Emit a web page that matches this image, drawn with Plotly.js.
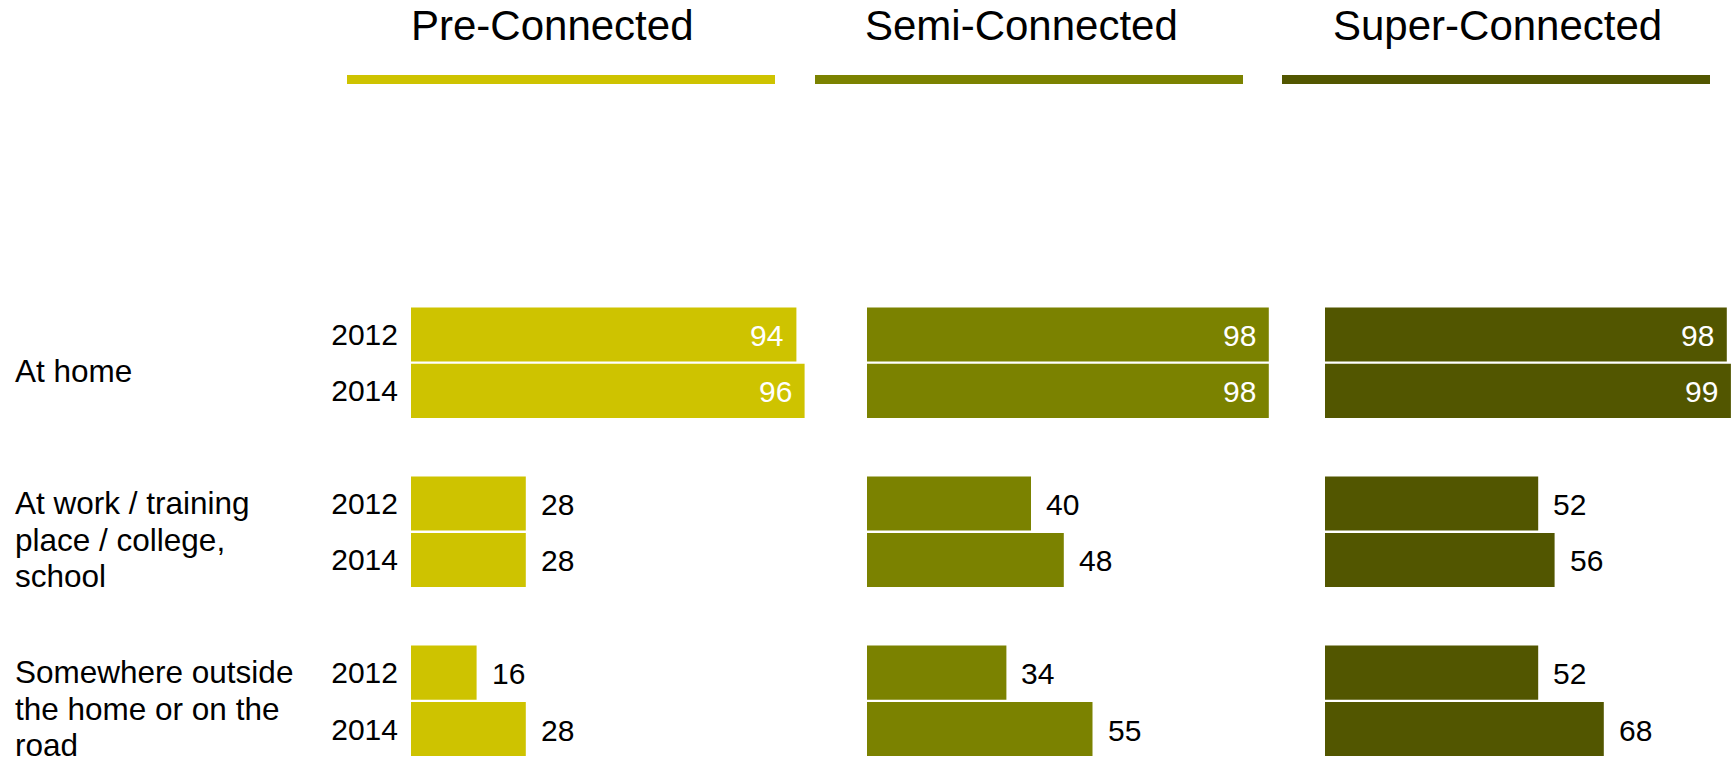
<!DOCTYPE html>
<html>
<head>
<meta charset="utf-8">
<script src="https://cdn.plot.ly/plotly-3.0.1.min.js"></script>
<style>
html,body{margin:0;padding:0;background:#fff;}
#chart{width:1736px;height:759px;}
</style>
</head>
<body>
<div id="chart"></div>
<script>
// ---- data ----
const segments = ["Pre-Connected", "Semi-Connected", "Super-Connected"];
const groups = ["At home", "At work / training<br>place / college,<br>school", "Somewhere outside<br>the home or on the<br>road"];
const years = ["2012", "2014"];
const pre2012 = [94, 28, 16];
const pre2014 = [96, 28, 28];
const semi2012 = [98, 40, 34];
const semi2014 = [98, 48, 55];
const super2012 = [98, 52, 52];
const super2014 = [99, 56, 68];

// ---- styling ----
const colors = ["#CEC300", "#7B8200", "#525600"];
const font = "Liberation Sans, Arial, sans-serif";
const W = 1736, H = 759;
const xDomains = [[411 / W, 821 / W], [867 / W, 1277 / W], [1325 / W, 1735 / W]];
const underlinePx = [[347, 775], [815, 1243], [1282, 1710]];
const titleCenters = [552, 1021, 1497.5];
const lineStep = 36.5;

const seriesBySegment = [[pre2012, pre2014], [semi2012, semi2014], [super2012, super2014]];

// position of each bar on the numeric category axis: group*3 + yearIndex
function pos(g, j) { return g * 3 + j; }

const traces = [];
const annotations = [];
seriesBySegment.forEach((pair, s) => {
  const xs = [], ys = [];
  groups.forEach((g, gi) => {
    years.forEach((yr, j) => {
      xs.push(pair[j][gi]);
      ys.push(pos(gi, j));
    });
  });
  const xa = s === 0 ? "x" : "x" + (s + 1);
  traces.push({
    type: "bar", orientation: "h", x: xs, y: ys, width: 0.96,
    xaxis: xa, yaxis: "y",
    marker: {color: colors[s], line: {width: 0}},
    hoverinfo: "x", showlegend: false
  });
  xs.forEach((v, k) => {
    const inside = v > 85;
    annotations.push({
      x: v, y: ys[k], xref: xa, yref: "y",
      text: String(v), showarrow: false,
      xanchor: inside ? "right" : "left", yanchor: "middle",
      xshift: inside ? -11 : 13, yshift: -1,
      font: {family: font, size: 30, color: inside ? "#ffffff" : "#000000"}
    });
  });
  annotations.push({
    x: titleCenters[s] / W, y: 1 - 25.5 / H, xref: "paper", yref: "paper",
    text: segments[s], showarrow: false, xanchor: "center", yanchor: "middle",
    font: {family: font, size: 42, color: "#000000"}
  });
});

groups.forEach((g, gi) => {
  const lines = g.split("<br>");
  lines.forEach((ln, k) => {
    annotations.push({
      x: 13 / W, y: pos(gi, 0) + 0.5, xref: "paper", yref: "y",
      text: ln, showarrow: false, xanchor: "left", yanchor: "middle", align: "left",
      yshift: -8 - (k - (lines.length - 1) / 2) * lineStep,
      font: {family: font, size: 31.5, color: "#000000"}
    });
  });
});

const shapes = underlinePx.map((u, s) => ({
  type: "rect", xref: "paper", yref: "paper",
  x0: u[0] / W, x1: u[1] / W, y0: 1 - 84 / H, y1: 1 - 75 / H,
  fillcolor: colors[s], line: {width: 0}
}));

const tickvals = [], ticktext = [];
groups.forEach((g, gi) => years.forEach((yr, j) => { tickvals.push(pos(gi, j)); ticktext.push(yr); }));

const xBase = {range: [0, 100], visible: false, showgrid: false, zeroline: false, fixedrange: true};
const layout = {
  width: W, height: H,
  margin: {l: 0, r: 0, t: 0, b: 0},
  paper_bgcolor: "#ffffff", plot_bgcolor: "#ffffff",
  font: {family: font},
  xaxis: Object.assign({}, xBase, {domain: xDomains[0], anchor: "y"}),
  xaxis2: Object.assign({}, xBase, {domain: xDomains[1], anchor: "y"}),
  xaxis3: Object.assign({}, xBase, {domain: xDomains[2], anchor: "y"}),
  yaxis: {
    domain: [(H - 757.2) / H, (H - 306.3) / H],
    range: [7.5, -0.5], autorange: false,
    tickmode: "array", tickvals: tickvals, ticktext: ticktext,
    ticks: "", showline: false, showgrid: false, zeroline: false,
    ticklabelstandoff: 12,
    tickfont: {family: font, size: 30, color: "#000000"},
    anchor: "x"
  },
  shapes: shapes,
  annotations: annotations,
  bargap: 0.04
};

Plotly.newPlot("chart", traces, layout, {displayModeBar: false, staticPlot: true});
</script>
</body>
</html>
